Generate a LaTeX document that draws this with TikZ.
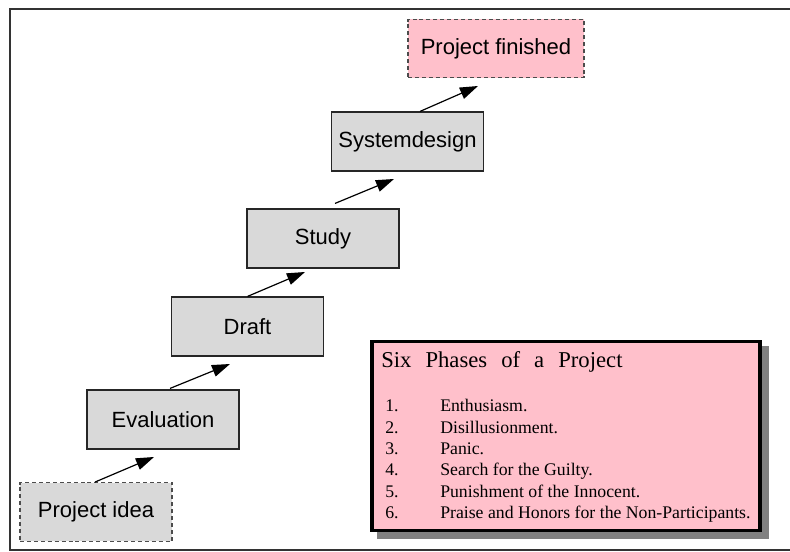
\documentclass[tikz,border=0pt]{standalone}
\usepackage{fontspec}
\setmainfont{Liberation Serif}
\newfontfamily\boxfont{Liberation Sans}
\usetikzlibrary{arrows.meta}
\definecolor{stepgray}{HTML}{D9D9D9}
\definecolor{notepink}{HTML}{FFC0CB}
\definecolor{framegray}{HTML}{333333}
\tikzset{
  phasebox/.style={draw=black!85, line width=1.1pt, fill=stepgray, rectangle,
    minimum width=114pt, minimum height=44pt, inner sep=0pt,
    font=\boxfont\fontsize{16.5}{18}\selectfont},
  endbox/.style={phasebox, draw=black!70, dash pattern=on 3pt off 2.2pt, line width=0.9pt},
  stepline/.style={line width=0.9pt, -{Triangle[length=13.5pt,width=9pt]}},
  listtext/.style={anchor=base west, inner sep=0pt, font=\fontsize{13.3}{15}\selectfont},
}
\begin{document}
\begin{tikzpicture}[x=0.75pt,y=-0.75pt]
\useasboundingbox (0,0) rectangle (790,552);
% outer frame, open on the right
\draw[framegray, line width=1.5pt] (791,9.5) -- (9.5,9.5) -- (9.5,550) -- (791,550);

% the project steps
\node[endbox]   (idea)     at (96,512)     {Project idea};
\node[phasebox] (eval)     at (163,419.5)  {Evaluation};
\node[phasebox] (draft)    at (247.5,326.5){Draft};
\node[phasebox] (study)    at (323,238.5)  {Study};
\node[phasebox] (sysdes)   at (407.5,141.5){Systemdesign};
\node[endbox, fill=notepink, minimum width=132pt] (finished) at (496,48.5) {Project finished};

% arrow tips
\coordinate (t1) at (154,457);
\coordinate (t2) at (230,364);
\coordinate (t3) at (305,272);
\coordinate (t4) at (394,179);
\coordinate (t5) at (478,86);

\draw[stepline] ([shift={(-1,0)}]idea.north) -- (t1);
\draw[stepline] ([shift={(7,-1)}]eval.north) -- (t2);
\draw[stepline] (draft.north) -- (t3);
\draw[stepline] ([shift={(12,-5)}]study.north) -- (t4);
\draw[stepline] ([shift={(12.5,0)}]sysdes.north) -- (t5);

% note box with its shadow
\fill[black!50] (377,346.5) rectangle (769,539);
\node[draw=black, line width=2.3pt, fill=notepink, rectangle, inner sep=0pt,
      minimum width=291pt, minimum height=141.75pt] (note) at (566,436) {};

\node[anchor=base west, inner sep=0pt, font=\fontsize{17}{20}\selectfont]
  (title) at (381,368) {\spaceskip=0.62em Six Phases of a Project};

\node[listtext] (n1) at (385,412)   {1.};
\node[listtext] (n2) at (385,433.3) {2.};
\node[listtext] (n3) at (385,454.6) {3.};
\node[listtext] (n4) at (385,475.9) {4.};
\node[listtext] (n5) at (385,497.2) {5.};
\node[listtext] (n6) at (385,518.5) {6.};
\node[listtext] (i1) at (440,412)   {Enthusiasm.};
\node[listtext] (i2) at (440,433.3) {Disillusionment.};
\node[listtext] (i3) at (440,454.6) {Panic.};
\node[listtext] (i4) at (440,475.9) {Search for the Guilty.};
\node[listtext] (i5) at (440,497.2) {Punishment of the Innocent.};
\node[listtext] (i6) at (440,518.5) {Praise and Honors for the Non-Participants.};
\end{tikzpicture}
\end{document}
